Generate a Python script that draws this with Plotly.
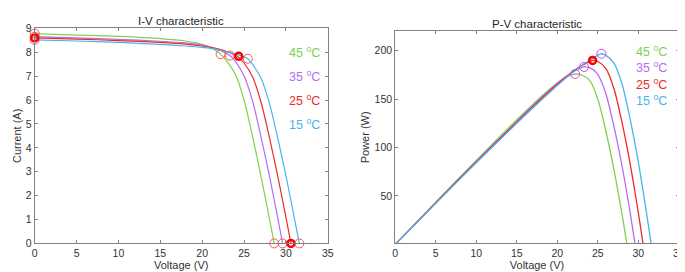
import plotly.graph_objects as go

temps = ["45", "35", "25", "15"]
colors = ["#7ED14E", "#B56CF0", "#EE2A2A", "#48B4EC"]

# I-V data
v45 = [0, 5, 10, 15, 18, 20, 21, 22, 22.2, 23, 24, 25, 26, 27, 28, 28.6]
i45 = [8.78, 8.72, 8.66, 8.57, 8.47, 8.33, 8.2, 7.98, 7.92, 7.6, 7.05, 6.0, 4.5, 2.85, 1.1, 0]
p45 = [0, 43.6, 86.6, 128.55, 152.46, 166.6, 172.2, 175.56, 175.82, 174.8, 169.2, 150.0, 117.0, 76.95, 30.8, 0]

v35 = [0, 5, 10, 15, 18, 20, 21, 22, 23.3, 24, 25, 26, 27, 28, 29, 29.6]
i35 = [8.65, 8.6, 8.54, 8.46, 8.39, 8.3, 8.22, 8.1, 7.86, 7.6, 7.02, 5.98, 4.5, 2.88, 1.12, 0]
p35 = [0, 43.0, 85.4, 126.9, 151.02, 166.0, 172.62, 178.2, 183.14, 182.4, 175.5, 155.48, 121.5, 80.64, 32.48, 0]

v25 = [0, 5, 10, 15, 18, 20, 22, 23, 24.36, 25, 26, 27, 28, 29, 30, 30.6]
i25 = [8.6, 8.55, 8.49, 8.41, 8.34, 8.26, 8.13, 8.02, 7.79, 7.55, 6.98, 5.95, 4.48, 2.86, 1.1, 0]
p25 = [0, 42.75, 84.9, 126.15, 150.12, 165.2, 178.86, 184.46, 189.76, 188.75, 181.48, 160.65, 125.44, 82.94, 33.0, 0]

v15 = [0, 5, 10, 15, 18, 20, 22, 24, 25.45, 26, 27, 28, 29, 30, 31, 31.6]
i15 = [8.52, 8.47, 8.41, 8.33, 8.26, 8.2, 8.1, 7.92, 7.73, 7.5, 6.93, 5.9, 4.45, 2.84, 1.08, 0]
p15 = [0, 42.35, 84.1, 124.95, 148.68, 164.0, 178.2, 190.08, 196.73, 195.0, 187.11, 165.2, 129.05, 85.2, 33.48, 0]

# key points: short-circuit, maximum power, open-circuit
isc = [8.78, 8.65, 8.6, 8.52]
vmp = [22.2, 23.3, 24.36, 25.45]
imp = [7.92, 7.86, 7.83, 7.73]
pmp = [175.8, 183.1, 189.8, 196.7]
voc = [28.6, 29.6, 30.6, 31.6]

V = [v45, v35, v25, v15]
I = [i45, i35, i25, i15]
P = [p45, p35, p25, p15]

fig = go.Figure()
for k in range(4):
    fig.add_trace(go.Scatter(x=V[k], y=I[k], mode="lines", line=dict(color=colors[k], width=1.2, shape="spline", smoothing=0.8),
                             xaxis="x", yaxis="y", showlegend=False, hoverinfo="skip"))
    fig.add_trace(go.Scatter(x=V[k], y=P[k], mode="lines", line=dict(color=colors[k], width=1.3, shape="spline", smoothing=0.8),
                             xaxis="x2", yaxis="y2", showlegend=False, hoverinfo="skip"))

# I-V markers
thin = [0, 1, 3]
fig.add_trace(go.Scatter(x=[0]*3 + [vmp[k] for k in thin] + [voc[k] for k in thin],
                         y=[isc[k] for k in thin] + [imp[k] for k in thin] + [0]*3,
                         mode="markers", marker=dict(symbol="circle-open", size=9, color="#F05A5A", line=dict(width=1)),
                         xaxis="x", yaxis="y", showlegend=False, cliponaxis=False, hoverinfo="skip"))
fig.add_trace(go.Scatter(x=[0, vmp[2], voc[2]], y=[isc[2], imp[2], 0],
                         mode="markers", marker=dict(symbol="circle-open", size=7, color="#FF0000", line=dict(width=2.5)),
                         xaxis="x", yaxis="y", showlegend=False, cliponaxis=False, hoverinfo="skip"))
# P-V markers
fig.add_trace(go.Scatter(x=[vmp[k] for k in thin], y=[pmp[k] for k in thin],
                         mode="markers", marker=dict(symbol="circle-open", size=9, color="#D84FE0", line=dict(width=1)),
                         xaxis="x2", yaxis="y2", showlegend=False, hoverinfo="skip"))
fig.add_trace(go.Scatter(x=[vmp[2]], y=[pmp[2]],
                         mode="markers", marker=dict(symbol="circle-open", size=7, color="#FF0000", line=dict(width=2.5)),
                         xaxis="x2", yaxis="y2", showlegend=False, hoverinfo="skip"))

label_iy = [8, 7, 6, 5]
label_py = [200, 183, 166, 149]
ann = []
for k in range(4):
    ann.append(dict(x=34.3, y=label_iy[k], xref="x", yref="y", text=f"{temps[k]} <sup>o</sup>C", showarrow=False,
                    xanchor="right", yanchor="middle", font=dict(color=colors[k], size=12.5)))
    ann.append(dict(x=33.8, y=label_py[k], xref="x2", yref="y2", text=f"{temps[k]} <sup>o</sup>C", showarrow=False,
                    xanchor="right", yanchor="middle", font=dict(color=colors[k], size=12.5)))

ann.append(dict(x=172.5/685, y=1 - 7/272, xref="paper", yref="paper", text="I-V characteristic", showarrow=False,
                xanchor="center", yanchor="middle", font=dict(size=11.5, color="#262626")))
ann.append(dict(x=533/685, y=1 - 10/272, xref="paper", yref="paper", text="P-V characteristic", showarrow=False,
                xanchor="center", yanchor="middle", font=dict(size=11.5, color="#262626")))

axis_common = dict(showgrid=False, zeroline=False, showline=True, mirror="ticks", ticks="inside", ticklen=3,
                   linecolor="#808080", tickcolor="#808080", linewidth=1,
                   tickfont=dict(size=10.5, color="#333333"))

fig.update_layout(
    width=685, height=272, margin=dict(l=0, r=0, t=0, b=0),
    paper_bgcolor="white", plot_bgcolor="white",
    font=dict(family="Liberation Sans, Arial, sans-serif", color="#333333"),
    xaxis=dict(domain=[24/685, 321/685], range=[0, 35], dtick=5, anchor="y",
               title=dict(text="Voltage (V)", standoff=2, font=dict(size=11)), **axis_common),
    yaxis=dict(domain=[32/272, 257/272], range=[0, 9], dtick=1, anchor="x",
               title=dict(text="Current (A)", standoff=1, font=dict(size=11)), **axis_common),
    xaxis2=dict(domain=[389.3/685, 676.7/685], range=[0, 35], dtick=5, anchor="y2",
                title=dict(text="Voltage (V)", standoff=2, font=dict(size=11)), **axis_common),
    yaxis2=dict(domain=[32/272, 254/272], range=[1, 220], tickvals=[50, 100, 150, 200], anchor="x2",
                title=dict(text="Power (W)", standoff=2, font=dict(size=11)), **axis_common),
    annotations=ann,
)

fig.write_html("out.html")
